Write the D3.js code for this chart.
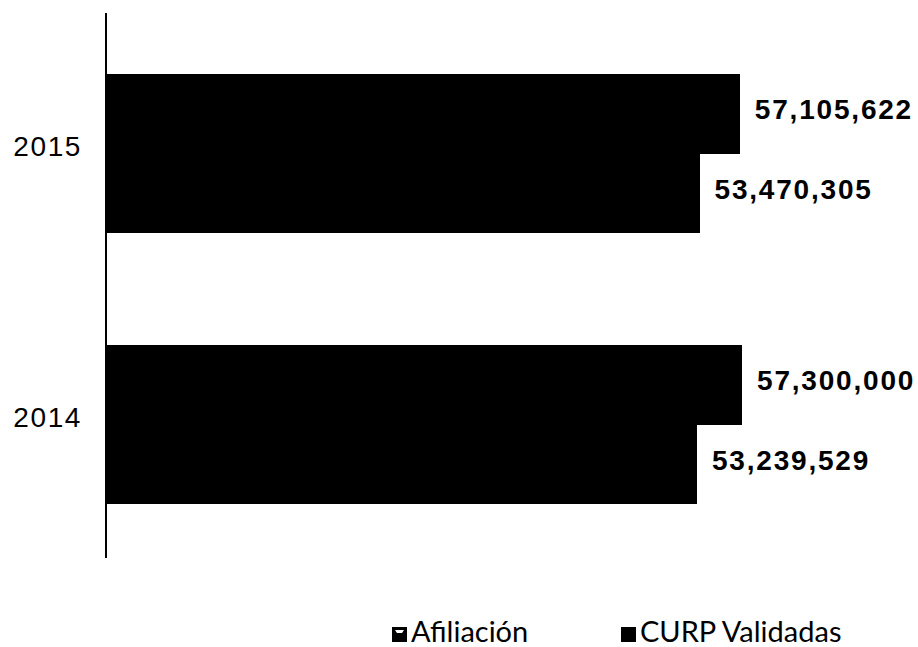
<!DOCTYPE html>
<html>
<head>
<meta charset="utf-8">
<script src="https://cdn.jsdelivr.net/npm/d3@7"></script>
<style>
  html, body { margin: 0; padding: 0; background: #fff; }
  svg { display: block; }
</style>
</head>
<body>
<svg id="chart" width="918" height="647"></svg>
<script>
const categories = ["2015", "2014"];
const seriesNames = ["Afiliación", "CURP Validadas"];
const afiliacion = [57105622, 57300000];
const curpValidadas = [53470305, 53239529];
const valueLabels = [["57,105,622", "53,470,305"], ["57,300,000", "53,239,529"]];

const data = categories.map((c, i) => ({
  cat: c,
  values: [
    { series: seriesNames[0], value: afiliacion[i], label: valueLabels[i][0] },
    { series: seriesNames[1], value: curpValidadas[i], label: valueLabels[i][1] }
  ]
}));

const svg = d3.select("#chart");
const axisX = 106;

const x = d3.scaleLinear().domain([0, 60000000]).range([axisX, axisX + 666]);
const y = d3.scaleBand().domain(categories).range([18, 560]).padding(0);
const ySub = d3.scaleBand().domain(seriesNames).range([0, y.bandwidth()])
  .paddingInner(0).paddingOuter(0.70);

const groups = svg.selectAll("g.cat").data(data).join("g")
  .attr("class", "cat")
  .attr("transform", d => `translate(0,${y(d.cat)})`);

groups.selectAll("rect").data(d => d.values).join("rect")
  .attr("x", x(0))
  .attr("y", d => ySub(d.series))
  .attr("width", d => x(d.value) - x(0))
  .attr("height", ySub.bandwidth())
  .attr("fill", "#000")
  .attr("shape-rendering", "crispEdges");

groups.selectAll("text.val").data(d => d.values).join("text")
  .attr("class", "val")
  .attr("x", d => x(d.value) + 15)
  .attr("y", d => ySub(d.series) + ySub.bandwidth() / 2 - 4)
  .attr("dominant-baseline", "central")
  .attr("font-family", "Liberation Sans, Arial, sans-serif")
  .attr("font-weight", "bold")
  .attr("font-size", 28)
  .attr("letter-spacing", "1.8px")
  .attr("fill", "#000")
  .text(d => d.label);

// y axis
const yAxis = d3.axisLeft(y).tickSize(0).tickPadding(24).tickSizeOuter(0);
const ga = svg.append("g").attr("transform", `translate(${axisX},0)`).call(yAxis);
ga.select(".domain").attr("d", "M0,13V558").attr("stroke", "#000").attr("stroke-width", 2);
ga.selectAll(".tick text")
  .attr("font-family", "Liberation Sans, Arial, sans-serif")
  .attr("font-size", 28)
  .attr("letter-spacing", "1.6px")
  .attr("fill", "#000")
  .attr("dy", "0.32em");
ga.selectAll(".tick").attr("transform", d => `translate(0,${y(d) + y.bandwidth() / 2 - 6})`);

// legend
const legendPos = [392, 621];
const leg = svg.append("g").selectAll("g").data(seriesNames).join("g")
  .attr("transform", (d, i) => `translate(${legendPos[i]},0)`);
leg.append("rect")
  .attr("x", 0).attr("y", 627).attr("width", 15).attr("height", 15)
  .attr("fill", "#000");
leg.filter((d, i) => i === 0).append("path")
  .attr("d", "M3,630 L12,630 L10,633 L5,633 Z")
  .attr("fill", "#fff");
leg.append("text")
  .attr("x", 19).attr("y", 642)
  .attr("font-family", "Lato, 'Open Sans', sans-serif")
  .attr("font-size", 29)
  .attr("fill", "#000")
  .text(d => d);
</script>
</body>
</html>
